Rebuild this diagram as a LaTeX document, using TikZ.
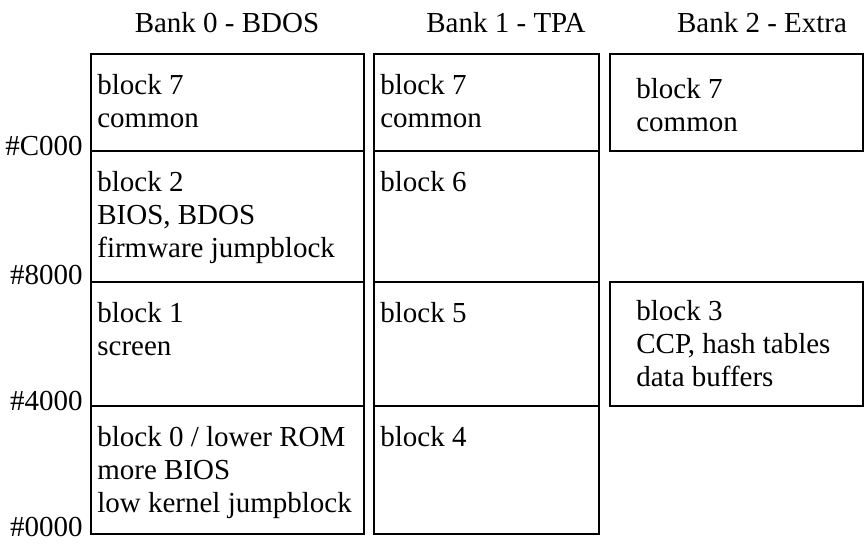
\documentclass[tikz,border=0pt]{standalone}
\usepackage{fontspec}
\setmainfont{Liberation Serif}
\usetikzlibrary{positioning}

\begin{document}
\begin{tikzpicture}[
        block/.style={draw,line width=1.2pt,rectangle,anchor=north west,inner sep=0pt},
        memtext/.style={anchor=north west,inner sep=0pt,align=left,font=\fontsize{16.5}{18.9}\selectfont},
        addr/.style={anchor=base east,inner sep=0pt,font=\fontsize{16.5}{18.9}\selectfont},
        bank/.style={inner sep=0pt,font=\fontsize{16.5}{18.9}\selectfont}
    ]
    \useasboundingbox (0,0) rectangle (17.3,10.9);

    % --- Bank headers ---
    \node[bank] (h0) at (4.54,10.44) {Bank 0 - BDOS};
    \node[bank] (h1) at (10.12,10.44) {Bank 1 - TPA};
    \node[bank] (h2) at (15.24,10.44) {Bank 2 - Extra};

    % --- Bank 0 ---
    \node[block,minimum width=5.46cm,minimum height=1.94cm] (b07) at (1.80,9.84) {};
    \node[block,minimum width=5.46cm,minimum height=2.62cm] (b02) at (1.80,7.90) {};
    \node[block,minimum width=5.46cm,minimum height=2.48cm] (b01) at (1.80,5.28) {};
    \node[block,minimum width=5.46cm,minimum height=2.56cm] (b00) at (1.80,2.80) {};
    \node[memtext] (t07) at ([shift={(0.14,-0.42)}]b07.north west) {block 7\\common};
    \node[memtext] (t02) at ([shift={(0.14,-0.42)}]b02.north west) {block 2\\BIOS, BDOS\\firmware jumpblock};
    \node[memtext] (t01) at ([shift={(0.14,-0.42)}]b01.north west) {block 1\\screen};
    \node[memtext] (t00) at ([shift={(0.14,-0.42)}]b00.north west) {block 0 / lower ROM\\more BIOS\\low kernel jumpblock};

    % --- Bank 1 ---
    \node[block,minimum width=4.50cm,minimum height=1.94cm] (b17) at (7.46,9.84) {};
    \node[block,minimum width=4.50cm,minimum height=2.62cm] (b16) at (7.46,7.90) {};
    \node[block,minimum width=4.50cm,minimum height=2.48cm] (b15) at (7.46,5.28) {};
    \node[block,minimum width=4.50cm,minimum height=2.56cm] (b14) at (7.46,2.80) {};
    \node[memtext] (t17) at ([shift={(0.14,-0.42)}]b17.north west) {block 7\\common};
    \node[memtext] (t16) at ([shift={(0.14,-0.42)}]b16.north west) {block 6};
    \node[memtext] (t15) at ([shift={(0.14,-0.42)}]b15.north west) {block 5};
    \node[memtext] (t14) at ([shift={(0.14,-0.42)}]b14.north west) {block 4};

    % --- Bank 2 ---
    \node[block,minimum width=5.06cm,minimum height=1.94cm] (b27) at (12.18,9.84) {};
    \node[block,minimum width=5.06cm,minimum height=2.48cm] (b23) at (12.18,5.28) {};
    \node[memtext] (t27) at ([shift={(0.54,-0.50)}]b27.north west) {block 7\\common};
    \node[memtext] (t23) at ([shift={(0.54,-0.38)}]b23.north west) {block 3\\CCP, hash tables\\data buffers};

    % --- Addresses ---
    \node[addr] (aC) at ([shift={(-0.14,-0.10)}]b02.north west) {\#C000};
    \node[addr] (a8) at ([shift={(-0.14,-0.07)}]b01.north west) {\#8000};
    \node[addr] (a4) at ([shift={(-0.14,-0.10)}]b00.north west) {\#4000};
    \node[addr] (a0) at ([shift={(-0.14,-0.03)}]b00.south west) {\#0000};

\end{tikzpicture}
\end{document}
